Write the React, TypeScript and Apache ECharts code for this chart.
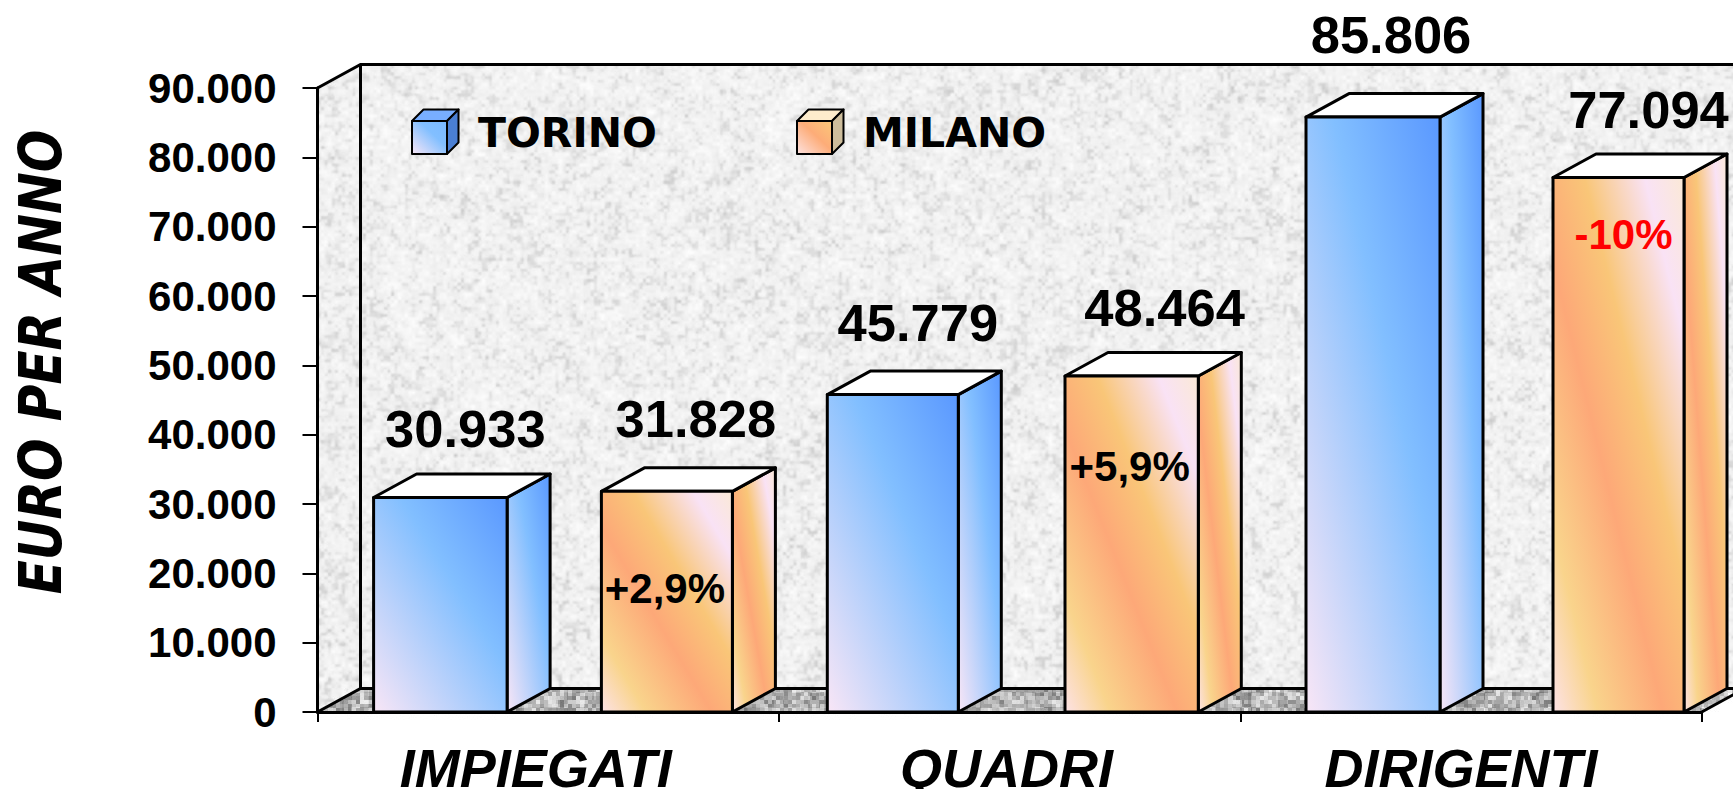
import React, { useEffect, useRef } from "react";
import * as echarts from "echarts";

// ---- data ----
const CATEGORIES = ["IMPIEGATI", "QUADRI", "DIRIGENTI"];
const TORINO_VALUES = [30933, 45779, 85806];
const MILANO_VALUES = [31828, 48464, 77094];
const MILANO_DELTAS = ["+2,9%", "+5,9%", "-10%"];
const DELTA_COLORS = ["#000000", "#000000", "#ff0000"];
const SERIES_NAMES = ["TORINO", "MILANO"];
const Y_AXIS_NAME = "EURO PER ANNO";

// ---- layout ----
const W = 1733;
const H = 789;
const GRID = { left: 317.5, right: 31.3, top: 88, bottom: 77, outerBoundsMode: "none" };
const X0 = GRID.left;
const X1 = W - GRID.right;
const Y0 = H - GRID.bottom;
const DX = 43;
const DY = 23.5;
const STROKE = 3;
const ARIAL = '"Liberation Sans", Arial, sans-serif';
const COMIC = '"Comic Sans MS", "DejaVu Sans", sans-serif';

// offsets from the centre of each category band, one per category
const BAR_LEFT = [
  [-174.6, -182.3, -165],
  [53.2, 55.4, 82],
];
const BAR_WIDTH = [
  [133.5, 131, 134],
  [131, 133.3, 131],
];
// value label offset from the front face centre / top
const LABEL_OFFSET = [
  [[25, -69], [25, -72], [18, -83]],
  [[29, -73], [33, -68], [30, -68]],
];
const DELTA_OFFSET = [[-2, 97], [-2, 91], [5, 57]];
const LABEL_PAD = [25, 6, 20];

const TORINO_STOPS = [
  { offset: 0, color: "#f9e6f6" },
  { offset: 0.6, color: "#82bfff" },
  { offset: 1, color: "#5a98ff" },
];
const MILANO_STOPS = [
  { offset: 0, color: "#fde2e6" },
  { offset: 0.17, color: "#f9d48c" },
  { offset: 0.42, color: "#fda878" },
  { offset: 0.62, color: "#f9c678" },
  { offset: 0.85, color: "#f9e2f5" },
  { offset: 1, color: "#fbe9d6" },
];
const gradient = (stops: any) => new echarts.graphic.LinearGradient(0, 1, 1, 0, stops);

// deterministic value noise for the wall and floor textures
function hash(ix: number, iy: number, seed: number) {
  let h = (ix * 374761393 + iy * 668265263 + seed * 2147483647) | 0;
  h = Math.imul(h ^ (h >>> 13), 1274126177);
  h = h ^ (h >>> 16);
  return (h >>> 0) / 4294967295;
}
function vnoise(x: number, y: number, seed: number) {
  const ix = Math.floor(x);
  const iy = Math.floor(y);
  let fx = x - ix;
  let fy = y - iy;
  fx = fx * fx * (3 - 2 * fx);
  fy = fy * fy * (3 - 2 * fy);
  const a = hash(ix, iy, seed);
  const b = hash(ix + 1, iy, seed);
  const c = hash(ix, iy + 1, seed);
  const d = hash(ix + 1, iy + 1, seed);
  return a + (b - a) * fx + (c - a) * fy + (a - b - c + d) * fx * fy;
}
function inWall(x: number, y: number) {
  if (x < X0 || y > Y0) return false;
  if (x < X0 + DX) {
    const t = (x - X0) / DX;
    return y >= GRID.top - DY * t && y <= Y0 - DY * t;
  }
  return y >= GRID.top - DY && y <= Y0 - DY;
}
function inFloor(x: number, y: number) {
  if (y > Y0 || y < Y0 - DY) return false;
  const t = (Y0 - y) / DY;
  return x >= X0 + DX * t && x <= X1 + DX * t;
}
function makeBackground() {
  const canvas = document.createElement("canvas");
  canvas.width = W;
  canvas.height = H;
  const ctx = canvas.getContext("2d")!;
  const img = ctx.createImageData(W, H);
  for (let y = 0; y < H; y++) {
    for (let x = 0; x < W; x++) {
      const i = (y * W + x) * 4;
      let v = 255;
      if (inFloor(x, y)) {
        const b = hash(Math.floor(x / 4), Math.floor(y / 4), 5);
        const b2 = hash(Math.floor(x / 9), Math.floor(y / 7), 6);
        const shade = 115 + b * 75 + b2 * 50;
        v = x > X1 ? Math.min(255, shade + 30) : shade;
      } else if (inWall(x, y)) {
        const n1 = vnoise(x / 3.5, y / 3.5, 1);
        const n2 = vnoise(x / 7, y / 7, 2);
        const n3 = vnoise(x / 22, y / 22, 3);
        const m = n1 * 0.45 + n2 * 0.4 + n3 * 0.15;
        const dark = Math.max(0, 0.44 - m);
        v = 240 + (m - 0.5) * 30 - dark * 60;
      }
      img.data[i] = v;
      img.data[i + 1] = v;
      img.data[i + 2] = v;
      img.data[i + 3] = 255;
    }
  }
  ctx.putImageData(img, 0, 0);
  return canvas.toDataURL("image/jpeg", 0.92);
}

const line = (pts: number[][], z = -1) => ({
  type: "polyline",
  z,
  silent: true,
  shape: { points: pts },
  style: { fill: "none", stroke: "#000", lineWidth: STROKE },
});

function cube(x: number, y: number, w: number, h: number, d: number, front: any, top: string, side: string) {
  const base = { stroke: "#000", lineWidth: 2, lineJoin: "round" };
  return [
    { type: "polygon", z: 50, shape: { points: [[x, y], [x + d, y - d], [x + w + d, y - d], [x + w, y]] }, style: { ...base, fill: top } },
    { type: "polygon", z: 50, shape: { points: [[x + w, y], [x + w + d, y - d], [x + w + d, y + h - d], [x + w, y + h]] }, style: { ...base, fill: side } },
    { type: "rect", z: 50, shape: { x, y, width: w, height: h }, style: { ...base, fill: front } },
  ];
}

function barRenderer(seriesIndex: number) {
  const stops = seriesIndex === 0 ? TORINO_STOPS : MILANO_STOPS;
  return (params: any, api: any) => {
    const cat = api.value(0);
    const top = api.coord([cat, api.value(1)]);
    const base = api.coord([cat, 0]);
    const x = top[0] + BAR_LEFT[seriesIndex][cat];
    const w = BAR_WIDTH[seriesIndex][cat];
    const yT = top[1];
    const yB = base[1];
    const edge = { stroke: "#000", lineWidth: STROKE, lineJoin: "round" };
    const children: any[] = [
      {
        type: "polygon",
        shape: { points: [[x + w, yT], [x + w + DX, yT - DY], [x + w + DX, yB - DY], [x + w, yB]] },
        style: { ...edge, fill: gradient(stops) },
      },
      {
        type: "polygon",
        shape: { points: [[x, yT], [x + DX, yT - DY], [x + w + DX, yT - DY], [x + w, yT]] },
        style: { ...edge, fill: "#ffffff" },
      },
      {
        type: "polygon",
        shape: { points: [[x, yT], [x + w, yT], [x + w, yB], [x, yB]] },
        style: { ...edge, fill: gradient(stops) },
      },
    ];
    const cx = x + w / 2;
    const src = seriesIndex === 0 ? TORINO_VALUES : MILANO_VALUES;
    const off = LABEL_OFFSET[seriesIndex][cat];
    children.push({
      type: "text",
      style: {
        x: cx + off[0],
        y: yT + off[1],
        text: echartsFmt(src[cat]),
        fill: "#000",
        font: `bold 52.5px ${ARIAL}`,
        textAlign: "center",
        textVerticalAlign: "middle",
      },
    });
    if (seriesIndex === 1) {
      const d = DELTA_OFFSET[cat];
      children.push({
        type: "text",
        style: {
          x: cx + d[0],
          y: yT + d[1],
          text: MILANO_DELTAS[cat],
          fill: DELTA_COLORS[cat],
          font: `bold 42px ${ARIAL}`,
          textAlign: "center",
          textVerticalAlign: "middle",
        },
      });
    }
    return { type: "group", children };
  };
}

function echartsFmt(v: number) {
  return String(v).replace(/\B(?=(\d{3})+(?!\d))/g, ".");
}

export default function App() {
  const ref = useRef<HTMLDivElement>(null);
  useEffect(() => {
    document.body.style.margin = "0";
    document.body.style.overflow = "hidden";
    const chart = echarts.init(ref.current!, null, { renderer: "svg", width: W, height: H });
    const wallTop = GRID.top - DY;
    const wallBase = Y0 - DY;
    chart.setOption({
      animation: false,
      backgroundColor: "#ffffff",
      grid: GRID,
      xAxis: {
        type: "category",
        data: CATEGORIES.map((c, i) => ({ value: c, textStyle: { padding: [0, LABEL_PAD[i], 0, 0] } })),
        axisLine: { lineStyle: { color: "#000", width: STROKE } },
        axisTick: { show: true, alignWithLabel: false, length: 10, lineStyle: { color: "#000", width: 2 } },
        axisLabel: {
          margin: 35,
          color: "#000",
          fontFamily: ARIAL,
          fontWeight: "bold",
          fontStyle: "italic",
          fontSize: 54,
          lineHeight: 42,
          interval: 0,
        },
      },
      yAxis: {
        type: "value",
        min: 0,
        max: 90000,
        interval: 10000,
        splitLine: { show: false },
        axisLine: { show: true, lineStyle: { color: "#000", width: STROKE } },
        axisTick: { show: true, length: 15, lineStyle: { color: "#000", width: 2 } },
        axisLabel: {
          margin: 41,
          color: "#000",
          fontFamily: ARIAL,
          fontWeight: "bold",
          fontSize: 42,
          formatter: (v: number) => echartsFmt(v),
        },
      },
      graphic: {
        elements: [
          { type: "image", z: -3, silent: true, style: { image: makeBackground(), x: 0, y: 0, width: W, height: H } },
          line([[X0, GRID.top], [X0 + DX, wallTop], [W + 5, wallTop]]),
          line([[X0 + DX, wallTop], [X0 + DX, wallBase]]),
          line([[X0, Y0], [X0 + DX, wallBase], [W + 5, wallBase]]),
          line([[X1, Y0], [X1 + DX, wallBase]]),
          ...cube(412, 121, 35, 33, 11.5, gradient([
            { offset: 0, color: "#f9e6f6" },
            { offset: 0.6, color: "#82bfff" },
            { offset: 1, color: "#7ab8ff" },
          ]), "#78aeff", "#4a7fd4"),
          ...cube(797, 121, 35, 33, 11.5, gradient([
            { offset: 0, color: "#fde2e0" },
            { offset: 0.55, color: "#fdac78" },
            { offset: 1, color: "#fbc878" },
          ]), "#fdeccc", "#cdbd9c"),
          {
            type: "text",
            z: 50,
            style: { x: 478, y: 133, text: SERIES_NAMES[0], fill: "#000", font: `bold 41px ${COMIC}`, textAlign: "left", textVerticalAlign: "middle" },
          },
          {
            type: "text",
            z: 50,
            style: { x: 863, y: 133, text: SERIES_NAMES[1], fill: "#000", font: `bold 41px ${COMIC}`, textAlign: "left", textVerticalAlign: "middle" },
          },
          {
            type: "text",
            z: 50,
            x: 41,
            y: 362,
            rotation: Math.PI / 2,
            scaleY: 1.18,
            style: { x: 0, y: 0, text: Y_AXIS_NAME, fill: "#000", font: `italic bold 50px ${COMIC}`, textAlign: "center", textVerticalAlign: "middle" },
          },
        ],
      },
      series: [TORINO_VALUES, MILANO_VALUES].map((vals, s) => ({
        type: "custom",
        name: SERIES_NAMES[s],
        coordinateSystem: "cartesian2d",
        encode: { x: 0, y: 1 },
        silent: true,
        clip: false,
        z: 5,
        renderItem: barRenderer(s),
        data: vals.map((v, i) => [i, v]),
      })),
    });
    return () => chart.dispose();
  }, []);
  return <div ref={ref} style={{ width: W, height: H, position: "absolute", left: 0, top: 0 }} />;
}
